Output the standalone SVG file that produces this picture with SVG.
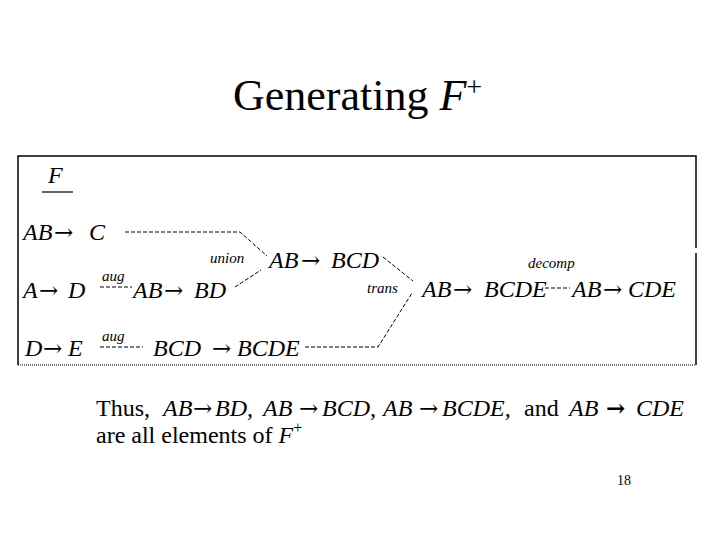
<svg xmlns="http://www.w3.org/2000/svg" width="720" height="540" viewBox="0 0 720 540">
<style>
text{font-family:"Liberation Serif","Times New Roman",serif;fill:#000}
.m{font-family:"Liberation Serif","Times New Roman",serif;font-size:24px;font-style:italic}
.s{font-family:"Liberation Serif","Times New Roman",serif;font-size:15px;font-style:italic}
.b{font-family:"Liberation Serif","Times New Roman",serif;font-size:24px}
.i{font-style:italic}
.a{font-family:"DejaVu Serif",serif;font-style:normal;font-size:23px}
.c{fill:none;stroke:#000;stroke-width:1;stroke-dasharray:4 2}
</style>
<rect width="720" height="540" fill="#fff"/>
<g id="title"><text x="233" y="110" font-size="44">Generating <tspan font-style="italic">F</tspan><tspan font-size="28" dy="-14">+</tspan></text></g>
<g id="frame" fill="none" stroke="#000">
<path d="M18 365V156H696V248M696 253V365" stroke-width="1.5"/>
<path d="M18 365H696" stroke-width="1" stroke-dasharray="1 1"/>
</g>
<g id="F"><text class="m" x="48" y="183">F</text><line x1="42" y1="192" x2="73" y2="192" stroke="#000" stroke-width="1.2"/></g>
<g id="n1"><text class="m" x="23" y="240">AB<tspan class="a" x="54">→</tspan><tspan x="89">C</tspan></text></g>
<g id="n2"><text class="m" x="23" y="298">A<tspan class="a" x="39">→</tspan><tspan x="68">D</tspan></text></g>
<g id="n3"><text class="m" x="25" y="356">D<tspan class="a" x="43">→</tspan><tspan x="68">E</tspan></text></g>
<g id="n4"><text class="m" x="133" y="298">AB<tspan class="a" x="164">→</tspan><tspan x="194">BD</tspan></text></g>
<g id="n5"><text class="m" x="153" y="356">BCD<tspan class="a" x="212">→</tspan><tspan x="237">BCDE</tspan></text></g>
<g id="n6"><text class="m" x="269" y="268">AB<tspan class="a" x="301">→</tspan><tspan x="331">BCD</tspan></text></g>
<g id="n7"><text class="m" x="422" y="297">AB<tspan class="a" x="453">→</tspan><tspan x="484">BCDE</tspan></text></g>
<g id="n8"><text class="m" x="572" y="297">AB<tspan class="a" x="603">→</tspan><tspan x="628">CDE</tspan></text></g>
<g id="labels">
<text class="s" x="102" y="281">aug</text>
<text class="s" x="102" y="341">aug</text>
<text class="s" x="210" y="263">union</text>
<text class="s" x="367" y="293">trans</text>
<text class="s" x="528" y="268">decomp</text>
</g>
<g id="connectors">
<path class="c" d="M125 232H240L267 256"/>
<path class="c" d="M235 287L261 270"/>
<path class="c" d="M100 287H132"/>
<path class="c" d="M100 347H143"/>
<path class="c" d="M305 347H378L412 293"/>
<path class="c" d="M383 257L413 281"/>
<path class="c" d="M545 288H570"/>
</g>
<g id="summary">
<text class="b" x="96" y="416">Thus,<tspan class="i" x="163">AB</tspan><tspan class="a" x="193" font-size="21">→</tspan><tspan class="i" x="215">BD,</tspan><tspan class="i" x="263">AB</tspan><tspan class="a" x="299" font-size="21">→</tspan><tspan class="i" x="322">BCD,</tspan><tspan class="i" x="383">AB</tspan><tspan class="a" x="419" font-size="21">→</tspan><tspan class="i" x="442">BCDE,</tspan><tspan x="524">and</tspan><tspan class="i" x="569">AB</tspan><tspan class="a" x="606" font-size="22" font-weight="bold">→</tspan><tspan class="i" x="636">CDE</tspan></text>
<text class="b" x="96" y="443">are all elements of <tspan class="i">F</tspan><tspan font-size="16" dy="-10">+</tspan></text>
</g>
<g id="page"><text x="617" y="485" font-size="14">18</text></g>
</svg>
